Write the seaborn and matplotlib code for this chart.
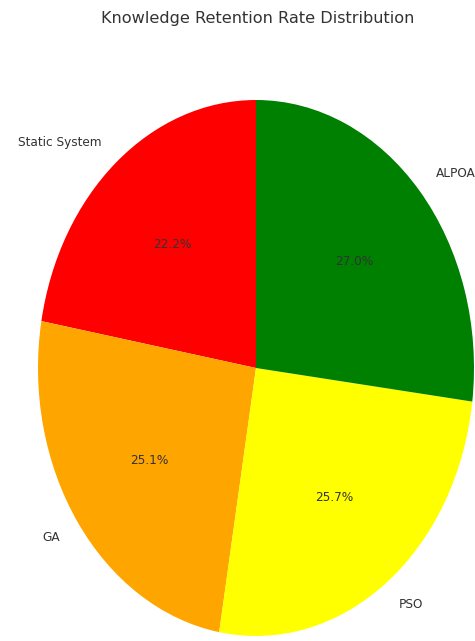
import matplotlib
matplotlib.use("Agg")
import matplotlib.pyplot as plt
import seaborn as sns

# Retention share per system
labels = ["Static System", "GA", "PSO", "ALPOA"]
shares = [22.2, 25.1, 25.7, 27.0]
colors = ["red", "orange", "yellow", "green"]

sns.set_theme(style="white")
plt.rcParams["font.family"] = ["DejaVu Sans"]

fig = plt.figure(figsize=(4.75, 6.41), dpi=100)
# pie centre ~(256, 368) px, radii ~218 x 268 px (stretched image)
ax = fig.add_axes([(256 - 1.25 * 218) / 475, (273 - 1.25 * 268) / 641,
                   2.5 * 218 / 475, 2.5 * 268 / 641])
ax.pie(shares, labels=labels, colors=colors, autopct="%1.1f%%", startangle=90,
       wedgeprops={"linewidth": 0},
       textprops={"fontsize": 8.7, "color": "#333333"})
ax.set_aspect("auto")
ax.set_xlim(-1.25, 1.25)
ax.set_ylim(-1.25, 1.25)

fig.suptitle("Knowledge Retention Rate Distribution", y=1 - 18 / 641, x=258 / 475,
             va="center", fontsize=11.6, color="#333333")

plt.savefig("out.png", dpi=100)
